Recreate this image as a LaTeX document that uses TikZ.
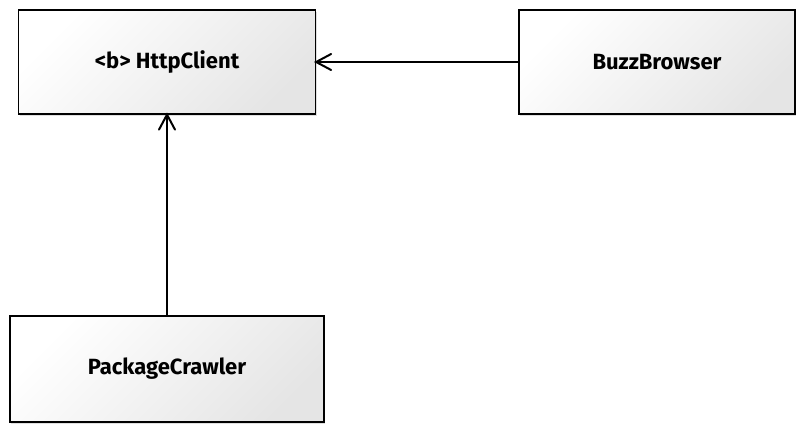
\documentclass[tikz,border=0pt]{standalone}
\usepackage{fontspec}
\setmainfont{Fira Sans}
\usetikzlibrary{shadows}
\begin{document}
\begin{tikzpicture}[x=1pt,y=-1pt,
  cls/.style={draw=black,line width=1.3pt,shading=axis,left color=white,right color=black!10,shading angle=45,
    minimum height=104pt,font=\fontsize{22}{26}\selectfont\bfseries,
    drop shadow={shadow xshift=1pt,shadow yshift=-2pt,opacity=0.25},inner sep=0pt},
  dep/.style={line width=1.4pt},
  head/.style={line width=2pt,line join=miter,line cap=round}]
\useasboundingbox (0,0) rectangle (797,428);
\node[cls,minimum width=297pt] (http) at (167,62) {<b> HttpClient};
\node[cls,minimum width=276pt] (buzz) at (657,62) {BuzzBrowser};
\node[cls,minimum width=314pt,minimum height=106pt] (pkg) at (167,369) {PackageCrawler};
\draw[dep] (buzz.west) -- (http.east);
\draw[head] ([xshift=15pt,yshift=-8pt]http.east) -- (http.east) -- ([xshift=15pt,yshift=8pt]http.east);
\draw[dep] (pkg.north) -- (http.south);
\draw[head] ([xshift=-8pt,yshift=-15pt]http.south) -- (http.south) -- ([xshift=8pt,yshift=-15pt]http.south);
\end{tikzpicture}
\end{document}
